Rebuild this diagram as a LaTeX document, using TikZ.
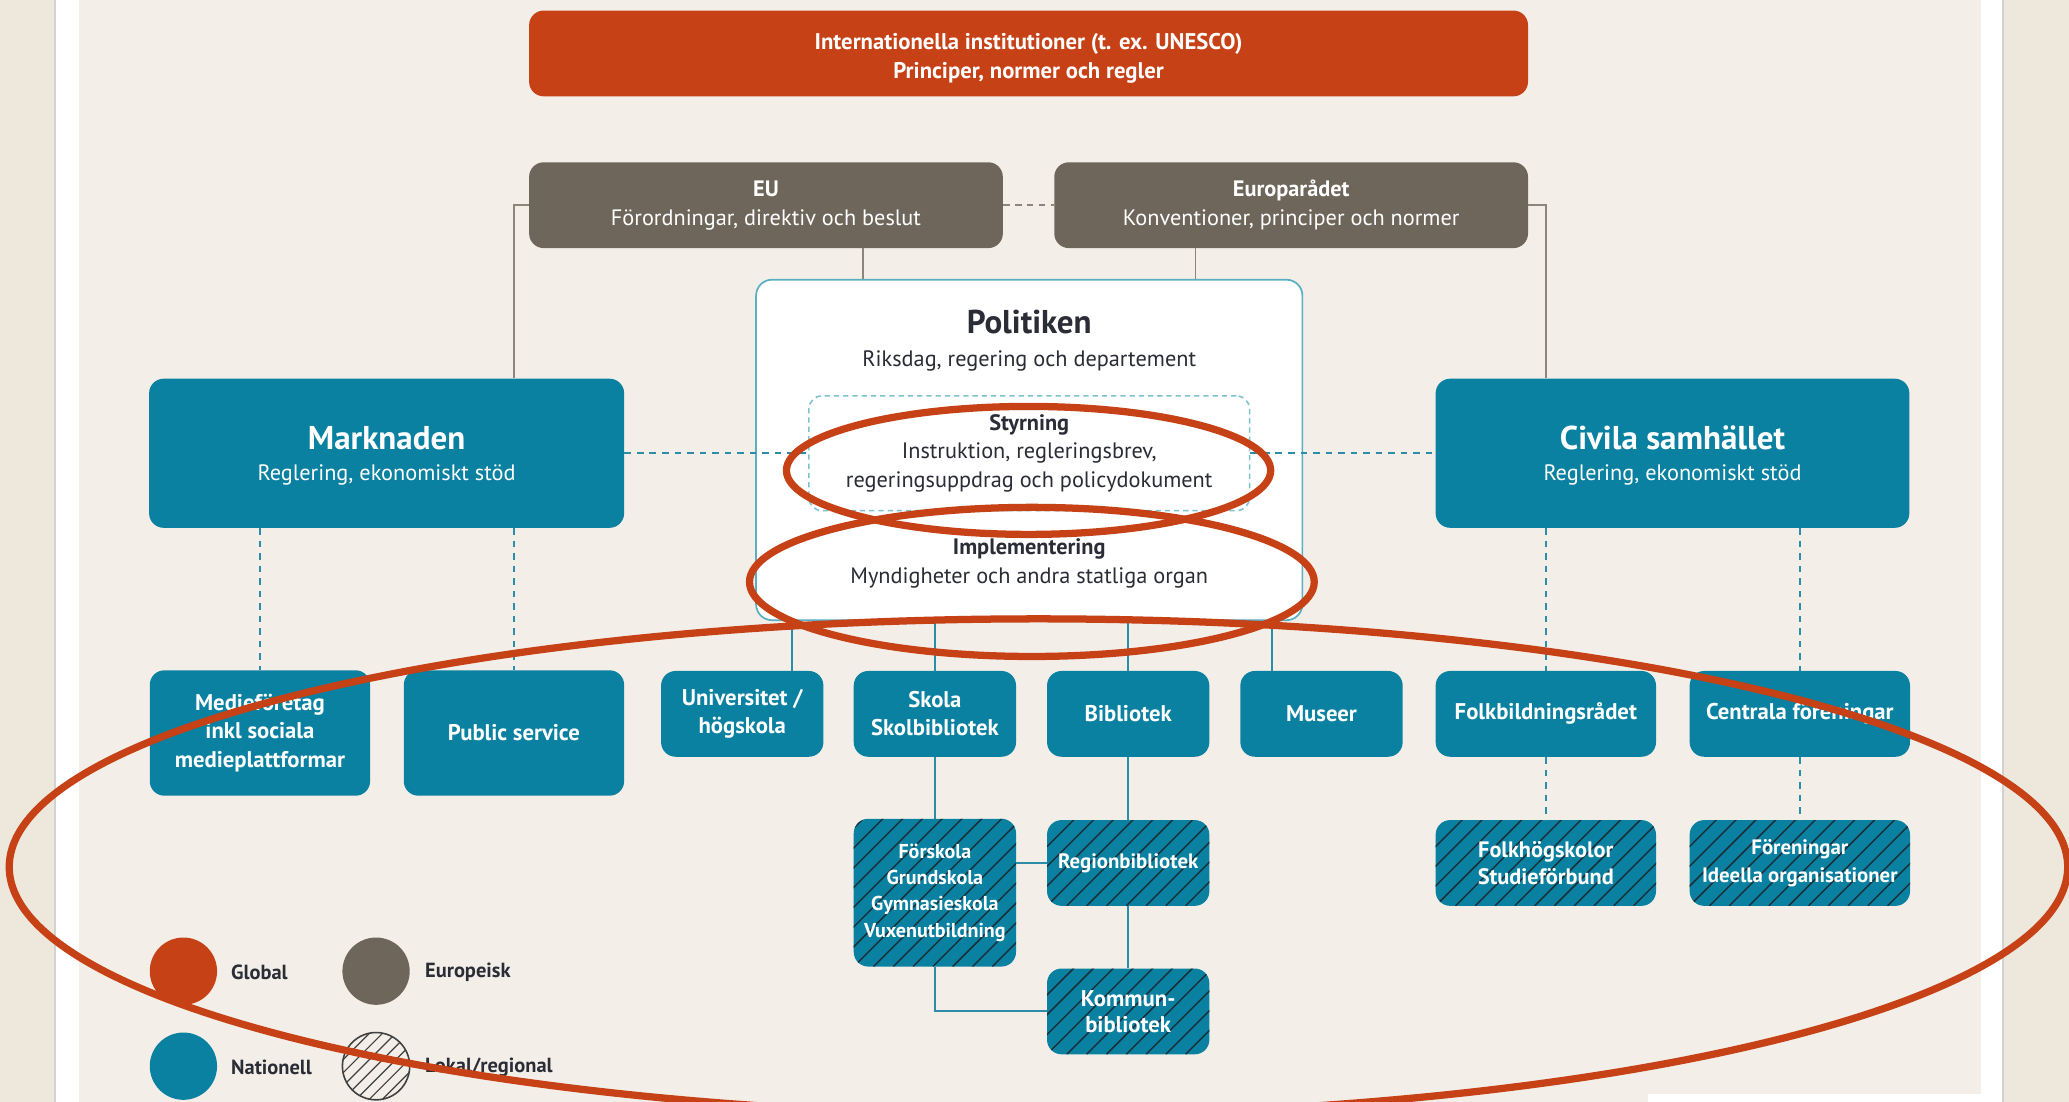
\documentclass[tikz,border=0pt]{standalone}
\usepackage{fontspec}
\setmainfont{PT Sans}
\usetikzlibrary{calc}
\definecolor{redc}{HTML}{C64115}
\definecolor{eurc}{HTML}{6E665A}
\definecolor{tealc}{HTML}{0A81A0}
\definecolor{bgc}{HTML}{F3EFE8}
\definecolor{outc}{HTML}{EEE7DC}
\definecolor{sepc}{HTML}{D2D2D2}
\definecolor{polb}{HTML}{5BAFC2}
\definecolor{dashc}{HTML}{7DC2CF}
\definecolor{linec}{HTML}{2B8EA8}
\definecolor{grayl}{HTML}{8C857A}
\definecolor{darktxt}{HTML}{2A2C36}
\definecolor{hatchc}{HTML}{1B2F3A}
\newcommand{\fsz}[2]{\fontsize{#1}{#2}\selectfont}
\tikzset{
  box/.style={rounded corners=11pt, inner sep=0pt, align=center, text=white, font=\fsz{16.9}{22}},
  tbox/.style={box, fill=tealc, font=\fsz{17.2}{21.5}\bfseries},
  hatch/.style={path picture={\foreach \k in {-10,...,14}{\draw[hatchc, line width=1.1pt] ([xshift=\k*15pt]path picture bounding box.south west) -- ++(200pt,200pt);}}},
  lhatch/.style={path picture={\foreach \k in {-8,...,8}{\draw[black!75, line width=0.9pt] ([xshift=\k*10pt]path picture bounding box.south west) -- ++(100pt,100pt);}}},
  grayline/.style={draw=grayl, line width=1.4pt},
  tline/.style={draw=linec, line width=1.5pt},
  tdash/.style={draw=linec, line width=1.5pt, dash pattern=on 5pt off 4.5pt},
  annot/.style={draw=redc, line width=5.5pt},
  legtxt/.style={anchor=west, inner sep=0pt, text=darktxt, font=\fsz{15.5}{18}\bfseries},
  legdot/.style={circle, inner sep=0pt, minimum size=51pt},
  ptext/.style={text=darktxt, inner sep=0pt, font=\fsz{16.9}{21.5}},
  whttitle/.style={text=white, inner sep=0pt, font=\fsz{25}{28}\bfseries, anchor=base},
  whtsub/.style={text=white, inner sep=0pt, font=\fsz{16.9}{20}, anchor=base}
}
\begin{document}
\begin{tikzpicture}[x=1pt,y=-1pt]
\useasboundingbox (0,0) rectangle (1568,835);
% background
\fill[outc] (0,0) rectangle (1568,835);
\fill[white] (42,0) rectangle (60,835);
\fill[bgc] (60,0) rectangle (1501,835);
\fill[white] (1501,0) rectangle (1518,835);
\fill[white] (1249,829) rectangle (1518,835);
\draw[sepc, line width=1.5pt] (42,0) -- (42,835);
\draw[sepc, line width=1.5pt] (1518,0) -- (1518,835);

% top boxes
\node[box, fill=redc, minimum width=757, minimum height=65] (intl) at (779.5,40.5) {};
\node[text=white, inner sep=0pt, align=center, font=\fsz{17.2}{22}\bfseries] (intltxt) at (779.5,44) {Internationella institutioner (t. ex. UNESCO)\\Principer, normer och regler};
\node[box, fill=eurc, minimum width=359, minimum height=65] (eu) at (580.5,155.5) {\textbf{EU}\\Förordningar, direktiv och beslut};
\node[box, fill=eurc, minimum width=359, minimum height=65] (europa) at (978.5,155.5) {\textbf{Europarådet}\\Konventioner, principer och normer};

% Politiken
\node[draw=polb, fill=white, line width=1.3pt, rounded corners=12pt, minimum width=414, minimum height=258, inner sep=0pt] (pol) at (780,341) {};
\node[text=darktxt, inner sep=0pt, font=\fsz{25}{28}\bfseries, anchor=base] (poltitle) at (780,253) {Politiken};
\node[ptext, anchor=base] (polsub) at (780,277.5) {Riksdag, regering och departement};
\node[ptext, align=center, draw=dashc, line width=1.2pt, dash pattern=on 4pt off 3pt, rounded corners=10pt, minimum width=334, minimum height=87] (styr) at (780,343.5) {\textbf{Styrning}\\Instruktion, regleringsbrev,\\regeringsuppdrag och policydokument};
\node[ptext, align=center] (impl) at (780,427) {\textbf{Implementering}\\Myndigheter och andra statliga organ};

% Marknaden / Civila
\node[box, fill=tealc, minimum width=360, minimum height=113] (mark) at (293,343.5) {};
\node[whttitle] (markt) at (293,340.5) {Marknaden};
\node[whtsub] (marks) at (293,364.5) {Reglering, ekonomiskt stöd};
\node[box, fill=tealc, minimum width=359, minimum height=113] (civ) at (1267.5,343.5) {};
\node[whttitle] (civt) at (1267.5,340.5) {Civila samhället};
\node[whtsub] (civs) at (1267.5,364.5) {Reglering, ekonomiskt stöd};

% bottom row
\node[tbox, minimum width=167, minimum height=95] (med) at (197,555.5) {Medieföretag\\inkl sociala\\medieplattformar};
\node[tbox, minimum width=167, minimum height=95] (pub) at (389.5,555.5) {Public service};
\node[tbox, minimum width=123, minimum height=65] (uni) at (562.5,541) {Universitet /\\högskola};
\node[tbox, minimum width=123, minimum height=65] (skola) at (708.5,541) {Skola\\Skolbibliotek};
\node[tbox, minimum width=123, minimum height=65] (bib) at (855,541) {Bibliotek};
\node[tbox, minimum width=123, minimum height=65] (mus) at (1001.5,541) {Museer};
\node[tbox, minimum width=167, minimum height=65] (folk) at (1171.5,541) {Folkbildningsrådet};
\node[tbox, minimum width=167, minimum height=65] (cent) at (1364,541) {Centrala föreningar};

% hatched boxes
\node[tbox, hatch, minimum width=123, minimum height=112, font=\fsz{15.2}{20}\bfseries] (fors) at (708.5,676.5) {Förskola\\Grundskola\\Gymnasieskola\\Vuxenutbildning};
\node[tbox, hatch, minimum width=123, minimum height=65, font=\fsz{15.8}{20}\bfseries] (reg) at (855,654) {Regionbibliotek};
\node[tbox, hatch, minimum width=123, minimum height=65, font=\fsz{17.2}{20}\bfseries] (kom) at (855,766.5) {Kommun-\\bibliotek};
\node[tbox, hatch, minimum width=167, minimum height=65, font=\fsz{16.9}{21}\bfseries] (fhs) at (1171.5,654) {Folkhögskolor\\Studieförbund};
\node[tbox, hatch, minimum width=167, minimum height=65, font=\fsz{15.8}{21}\bfseries] (fore) at (1364,654) {Föreningar\\Ideella organisationer};

% connectors: grey
\draw[grayline] (eu.west) -| (pub.north |- mark.north);
\draw[grayline] (europa.east) -| (folk.north |- civ.north);
\coordinate (eub) at ([xshift=73.5pt]eu.south);
\coordinate (eob) at ([xshift=-72.5pt]europa.south);
\draw[grayline] (eub) -- (eub |- pol.north);
\draw[grayline] (eob) -- (eob |- pol.north);
\draw[grayline, dash pattern=on 5pt off 4pt] (eu.east) -- (europa.west);

% connectors: teal dashed
\draw[tdash] (mark.east) -- (styr.west);
\draw[tdash] (styr.east) -- (civ.west);
\draw[tdash] (mark.south -| med.north) -- (med.north);
\draw[tdash] (mark.south -| pub.north) -- (pub.north);
\draw[tdash] (civ.south -| folk.north) -- (folk.north);
\draw[tdash] (civ.south -| cent.north) -- (cent.north);
\draw[tdash] (folk.south) -- (fhs.north);
\draw[tdash] (cent.south) -- (fore.north);

% connectors: teal solid
\coordinate (u1) at ([xshift=37.5pt]uni.north);
\coordinate (m1) at ([xshift=-37.5pt]mus.north);
\draw[tline] (u1 |- pol.south) -- (u1);
\draw[tline] (pol.south -| skola.north) -- (skola.north);
\draw[tline] (pol.south -| bib.north) -- (bib.north);
\draw[tline] (m1 |- pol.south) -- (m1);
\draw[tline] (skola.south) -- (fors.north);
\draw[tline] (bib.south) -- (reg.north);
\draw[tline] (reg.south) -- (kom.north);
\draw[tline] (reg.west -| fors.east) -- (reg.west);
\draw[tline] (fors.south) |- (kom.west);

% legend
\node[legdot, fill=redc] (lgl) at (139,736) {};
\node[legtxt] (lglt) at (175,737) {Global};
\node[legdot, fill=eurc] (leu) at (285,736) {};
\node[legtxt] (leut) at (322,737) {Europeisk};
\node[legdot, fill=tealc] (lna) at (139,808) {};
\node[legtxt] (lnat) at (175,809) {Nationell};
\node[legdot, lhatch, draw=black!75, line width=1.2pt] (llo) at (285,808) {};
\node[legtxt] (llot) at (322,809) {Lokal/regional};

% red annotation ellipses
\draw[annot] (779.5,356.5) ellipse [x radius=183.5, y radius=48.5];
\draw[annot] (782,441) ellipse [x radius=214, y radius=56.5];
\draw[annot] (787,657) ellipse [x radius=780, y radius=188];
\end{tikzpicture}
\end{document}
